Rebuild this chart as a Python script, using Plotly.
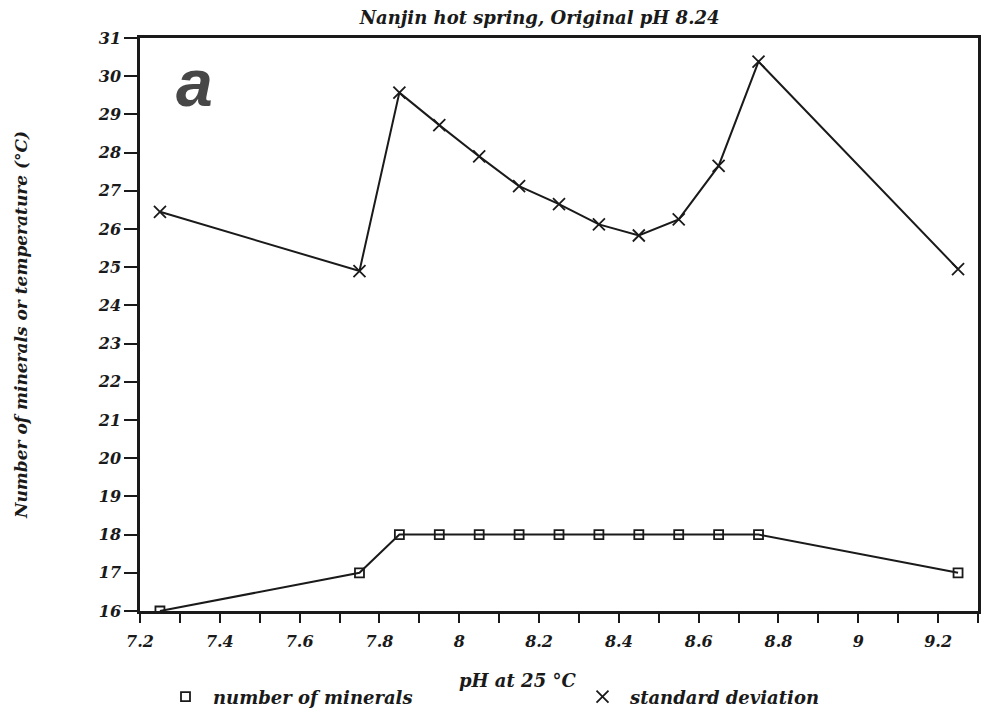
import plotly.graph_objects as go

# pH at 25 °C for each titration step
ph = [7.25, 7.75, 7.85, 7.95, 8.05, 8.15, 8.25, 8.35, 8.45, 8.55, 8.65, 8.75, 9.25]

# number of saturated minerals at each pH
n_minerals = [16, 17, 18, 18, 18, 18, 18, 18, 18, 18, 18, 18, 17]

# standard deviation of the estimated temperature (°C)
std_dev = [26.45, 24.9, 29.57, 28.72, 27.9, 27.12, 26.65, 26.12, 25.83, 26.25, 27.65, 30.38, 24.95]

x_ticks = [7.2, 7.4, 7.6, 7.8, 8.0, 8.2, 8.4, 8.6, 8.8, 9.0, 9.2]
x_tick_text = ["7.2", "7.4", "7.6", "7.8", "8", "8.2", "8.4", "8.6", "8.8", "9", "9.2"]
y_ticks = list(range(16, 32))

INK = "#1a1a1a"
FONT = dict(family="DejaVu Serif", size=16, color=INK, weight="bold", style="italic")

SQUARE = dict(symbol="square-open", size=9, color=INK, line=dict(width=1.8, color=INK))
CROSS = dict(symbol="x-thin-open", size=12, color=INK, line=dict(width=1.8, color=INK))

W, H = 990, 710
M_L, M_R, M_T, M_B = 140, 12, 38, 99
PLOT_H = H - M_T - M_B

fig = go.Figure()

fig.add_trace(go.Scatter(
    x=ph, y=n_minerals, mode="lines+markers", showlegend=False,
    line=dict(color=INK, width=2), marker=SQUARE,
))
fig.add_trace(go.Scatter(
    x=ph, y=std_dev, mode="lines+markers", showlegend=False,
    line=dict(color=INK, width=2), marker=CROSS,
))

# legend entries (symbols only), one legend box per series
fig.add_trace(go.Scatter(
    x=[None], y=[None], mode="markers", name="number of minerals",
    marker=SQUARE, legend="legend",
))
fig.add_trace(go.Scatter(
    x=[None], y=[None], mode="markers", name="standard deviation",
    marker=CROSS, legend="legend2",
))

# panel letter
fig.add_annotation(
    text="a", xref="paper", yref="paper", x=0.04, y=0.99,
    xanchor="left", yanchor="top", showarrow=False,
    font=dict(family="Liberation Sans", size=66, color="#474747",
              weight="bold", style="italic"),
)

# x-axis title, 69 px below the axis line
fig.add_annotation(
    text="pH at 25 °C", xref="paper", yref="paper", x=0.45, y=-69 / PLOT_H,
    xanchor="center", yanchor="middle", showarrow=False, font=dict(size=18),
)

legend_common = dict(
    orientation="h", xref="container", yref="container", yanchor="middle",
    y=1 - 697 / H, xanchor="left", font=dict(size=18), itemwidth=45,
    bgcolor="rgba(0,0,0,0)",
)

fig.update_layout(
    width=W, height=H,
    margin=dict(l=M_L, r=M_R, t=M_T, b=M_B, autoexpand=False),
    paper_bgcolor="white", plot_bgcolor="white",
    font=FONT,
    title=dict(text="Nanjin hot spring, Original pH 8.24", x=0.545, xanchor="center",
               y=1 - 18 / H, yanchor="middle", font=dict(size=18)),
    legend=dict(x=158 / W, **legend_common),
    legend2=dict(x=575 / W, **legend_common),
    showlegend=True,
)

fig.update_xaxes(
    range=[7.2, 9.3], tickvals=x_ticks, ticktext=x_tick_text,
    ticks="outside", ticklen=9, tickwidth=2, tickcolor=INK,
    minor=dict(dtick=0.1, tick0=7.2, ticks="outside", ticklen=9, tickwidth=2, tickcolor=INK),
    showline=True, linecolor=INK, linewidth=2.5, mirror=True,
    showgrid=False, zeroline=False,
    tickfont=dict(size=16), ticklabelstandoff=5,
)
fig.update_yaxes(
    range=[16, 31], tickvals=y_ticks,
    ticks="outside", ticklen=13, tickwidth=2, tickcolor=INK,
    showline=True, linecolor=INK, linewidth=2.5, mirror=True,
    showgrid=False, zeroline=False,
    tickfont=dict(size=16),
    title=dict(text="Number of minerals or temperature (°C)", standoff=66, font=dict(size=17)),
)

fig.write_html("out.html")
